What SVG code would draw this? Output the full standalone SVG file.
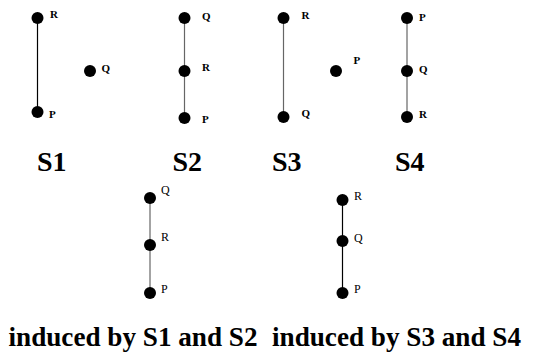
<svg xmlns="http://www.w3.org/2000/svg" width="536" height="354" viewBox="0 0 536 354" font-family="Liberation Serif, DejaVu Serif, serif">
<style>
.n{fill:#000}
.e{stroke:#000;stroke-width:1.2;fill:none}
.g{stroke:#666}
.lb{font-weight:bold;font-size:11px}
.ln{font-size:12px}
.t{font-weight:bold;font-size:28px}
.c{font-weight:bold;font-size:27px}
</style>
<rect width="536" height="354" fill="#fff"/>
<g id="connectors">
<line class="e" x1="37.5" y1="18" x2="37.5" y2="112"/>
<line class="e g" x1="184.5" y1="18" x2="184.5" y2="118"/>
<line class="e g" x1="283.5" y1="18" x2="283.5" y2="117"/>
<line class="e g" x1="407" y1="18" x2="407" y2="117"/>
<line class="e g" x1="150" y1="198" x2="150" y2="293"/>
<line class="e" x1="342.5" y1="200" x2="342.5" y2="293"/>
</g>
<g id="s1">
<g id="s1-R"><circle class="n" cx="37.5" cy="18" r="6"/><text class="lb" x="50" y="18">R</text></g>
<g id="s1-P"><circle class="n" cx="37.5" cy="112" r="6"/><text class="lb" x="49" y="118">P</text></g>
<g id="s1-Q"><circle class="n" cx="90" cy="71" r="6"/><text class="lb" x="101.5" y="72">Q</text></g>
<text class="t" x="37" y="171">S1</text>
</g>
<g id="s2">
<g id="s2-Q"><circle class="n" cx="184.5" cy="18" r="6"/><text class="lb" x="202" y="20">Q</text></g>
<g id="s2-R"><circle class="n" cx="184.5" cy="71" r="6"/><text class="lb" x="202" y="71">R</text></g>
<g id="s2-P"><circle class="n" cx="184.5" cy="118" r="6"/><text class="lb" x="202" y="122.5">P</text></g>
<text class="t" x="172.5" y="171">S2</text>
</g>
<g id="s3">
<g id="s3-R"><circle class="n" cx="283.5" cy="18" r="6"/><text class="lb" x="301.5" y="18.5">R</text></g>
<g id="s3-Q"><circle class="n" cx="283.5" cy="117" r="6"/><text class="lb" x="301.5" y="117">Q</text></g>
<g id="s3-P"><circle class="n" cx="336" cy="71" r="6"/><text class="lb" x="353.5" y="64">P</text></g>
<text class="t" x="272" y="171">S3</text>
</g>
<g id="s4">
<g id="s4-P"><circle class="n" cx="407" cy="18" r="6"/><text class="lb" x="419" y="21">P</text></g>
<g id="s4-Q"><circle class="n" cx="407" cy="71" r="6"/><text class="lb" x="419" y="72.5">Q</text></g>
<g id="s4-R"><circle class="n" cx="407" cy="117" r="6"/><text class="lb" x="419" y="117.5">R</text></g>
<text class="t" x="395" y="171">S4</text>
</g>
<g id="ind1">
<g id="ind1-Q"><circle class="n" cx="150" cy="198" r="6"/><text class="ln" x="161" y="194">Q</text></g>
<g id="ind1-R"><circle class="n" cx="150" cy="245" r="6"/><text class="ln" x="161" y="241">R</text></g>
<g id="ind1-P"><circle class="n" cx="150" cy="293" r="6"/><text class="ln" x="161" y="292.5">P</text></g>
<text class="c" x="8.5" y="346" textLength="249" lengthAdjust="spacingAndGlyphs">induced by S1 and S2</text>
</g>
<g id="ind2">
<g id="ind2-R"><circle class="n" cx="342.5" cy="200" r="6"/><text class="ln" x="354" y="200">R</text></g>
<g id="ind2-Q"><circle class="n" cx="342.5" cy="241" r="6"/><text class="ln" x="354" y="241.5">Q</text></g>
<g id="ind2-P"><circle class="n" cx="342.5" cy="293" r="6"/><text class="ln" x="354" y="293">P</text></g>
<text class="c" x="272" y="346" textLength="249" lengthAdjust="spacingAndGlyphs">induced by S3 and S4</text>
</g>
</svg>
